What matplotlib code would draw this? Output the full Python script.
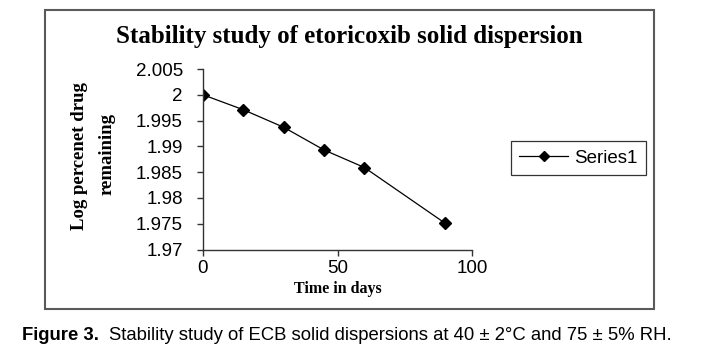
import matplotlib
matplotlib.use("Agg")
import matplotlib.pyplot as plt
from matplotlib.patches import Rectangle

# данные: время (дни) и логарифм процента оставшегося препарата
days = [0, 15, 30, 45, 60, 90]
log_remaining = [2.0, 1.9971, 1.9937, 1.9893, 1.9859, 1.9751]
y_ticks = [1.97, 1.975, 1.98, 1.985, 1.99, 1.995, 2.0, 2.005]
y_tick_labels = ["1.97", "1.975", "1.98", "1.985", "1.99", "1.995", "2", "2.005"]
x_ticks = [0, 50, 100]
series_name = "Series1"

W, H = 703, 358
fig = plt.figure(figsize=(W / 100, H / 100), dpi=100)

# рамка вокруг области диаграммы
fig.patches.append(Rectangle((45 / W, 1 - 309 / H), 609 / W, 299 / H,
                             transform=fig.transFigure, fill=False,
                             edgecolor="#5a5a5a", linewidth=1.5))

ax = fig.add_axes([203 / W, 1 - 249.5 / H, 269 / W, (249.5 - 69) / H])
ax.plot(days, log_remaining, color="black", linewidth=0.9, marker="D",
        markersize=6.5, label=series_name)
ax.set_xlim(0, 100)
ax.set_ylim(1.97, 2.005)
ax.set_xticks(x_ticks)
ax.set_xticklabels([str(t) for t in x_ticks])
ax.set_yticks(y_ticks)
ax.set_yticklabels(y_tick_labels)
for s in ["top", "right"]:
    ax.spines[s].set_visible(False)
for s in ["left", "bottom"]:
    ax.spines[s].set_color("#333333")
    ax.spines[s].set_linewidth(1.0)
ax.tick_params(direction="out", length=4.5, width=1.0, color="#333333",
               labelsize=13.5)
ax.tick_params(axis="y", pad=10)
ax.tick_params(axis="x", pad=3)
for lab in ax.get_xticklabels() + ax.get_yticklabels():
    lab.set_family("Liberation Sans")

ax.set_xlabel("Time in days", family="Liberation Serif", fontweight="bold",
              fontsize=11.5, labelpad=3)
fig.text(80 / W, 1 - 156 / H, "Log percenet drug", rotation=90,
         family="Liberation Serif", fontweight="bold", fontsize=13.5,
         ha="center", va="center")
fig.text(107 / W, 1 - 154 / H, "remaining", rotation=90,
         family="Liberation Serif", fontweight="bold", fontsize=13.5,
         ha="center", va="center")

fig.text(349 / W, 1 - 37 / H, "Stability study of etoricoxib solid dispersion",
         family="Liberation Serif", fontweight="bold", fontsize=18,
         ha="center", va="center")

leg = ax.legend(loc="center left", bbox_to_anchor=(511 / W, 1 - 158.5 / H),
                bbox_transform=fig.transFigure, frameon=True, fancybox=False,
                prop={"family": "Liberation Sans", "size": 13.5},
                handlelength=2.6, handletextpad=0.3, borderpad=0.45,
                borderaxespad=0, markerscale=0.75)
leg.get_frame().set_edgecolor("black")
leg.get_frame().set_linewidth(0.9)

# подпись рисунка
fig.text(22 / W, 1 - 336 / H, "Figure 3.", family="Liberation Sans",
         fontweight="bold", fontsize=13.3, ha="left", va="center")
fig.text(109 / W, 1 - 336 / H,
         "Stability study of ECB solid dispersions at 40 ± 2°C and 75 ± 5% RH.",
         family="Liberation Sans", fontsize=13.3, ha="left", va="center")

fig.savefig("out.png", dpi=100)
